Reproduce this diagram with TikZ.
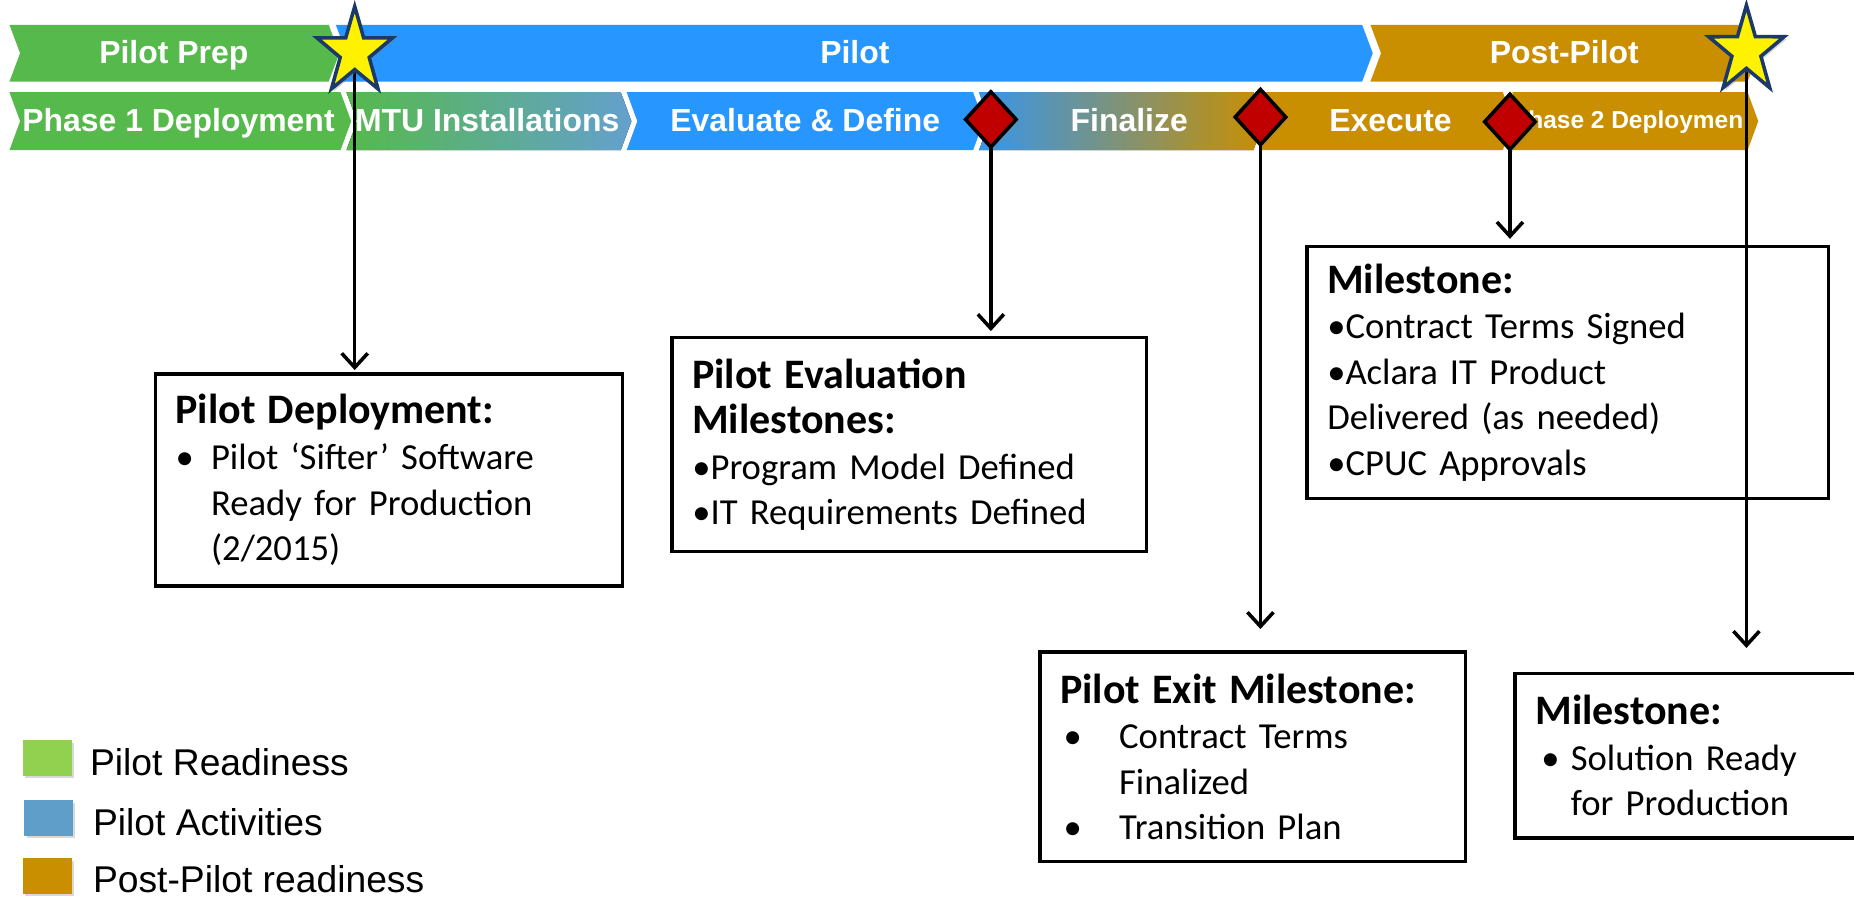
\documentclass[tikz,border=0pt]{standalone}
\usepackage{fontspec}
\setmainfont{Carlito}
\newfontfamily\arialfont{Liberation Sans}
\usepackage{tikz}
\usetikzlibrary{arrows.meta,shapes.geometric,shadows}
\usepackage{xcolor}

\definecolor{prepgreen}{RGB}{86,185,76}
\definecolor{pilotblue}{RGB}{40,150,255}
\definecolor{postgold}{RGB}{201,143,0}
\definecolor{steelblue}{RGB}{100,160,205}
\definecolor{fadeblue}{RGB}{55,150,235}
\definecolor{keygreen}{RGB}{146,208,80}
\definecolor{keyblue}{RGB}{95,158,201}
\definecolor{starnavy}{RGB}{28,58,105}
\definecolor{gemred}{RGB}{192,0,0}

\pgfdeclarelayer{bands}
\pgfdeclarelayer{links}
\pgfsetlayers{bands,links,main}

% chevron: [fill]{left x}{right x}{top y}{bottom y}
\newcommand{\chevron}[5][]{%
    \fill[#1] (#2,#4) -- (#3,#4) -- ({#3+9},{(#4+#5)/2}) -- (#3,#5)
        -- (#2,#5) -- ({#2+9},{(#4+#5)/2}) -- cycle;}
\newcommand{\mtitle}{\bfseries\fontsize{35.5}{38.5}\selectfont}
\newcommand{\bul}[2]{\makebox[#1][l]{\hspace{#2}\textbullet}}

\tikzset{
    bandtext/.style={text=white, inner sep=0, anchor=base,
        font=\arialfont\bfseries\fontsize{27}{30}\selectfont},
    milestar/.style={star, star points=5, star point ratio=2.6,
        minimum size=67pt, inner sep=0, fill=yellow, draw=starnavy,
        line width=3pt, drop shadow={opacity=0.35, shadow xshift=2pt, shadow yshift=-2pt}},
    gem/.style={diamond, minimum width=44pt, minimum height=48pt, inner sep=0,
        fill=gemred, draw=black, line width=3pt,
        drop shadow={opacity=0.3, shadow xshift=2pt, shadow yshift=-2pt}},
    mbox/.style={draw, line width=3pt, anchor=north west, inner xsep=17pt,
        inner ysep=0, align=left, font=\fontsize{31}{38.5}\selectfont},
    link/.style={line width=3pt, -{Straight Barb[length=12pt, width=22pt]}},
    keybox/.style={minimum width=41pt, minimum height=30pt, inner sep=0,
        drop shadow={opacity=0.3, shadow xshift=2pt, shadow yshift=-2pt}},
    keytext/.style={anchor=base west, inner sep=0,
        font=\arialfont\fontsize{31.5}{36}\selectfont},
}

\begin{document}
\begin{tikzpicture}[x=1pt, y=-1pt]
    \useasboundingbox (0,0) rectangle (1568,760);
    % stars
    \begin{scope}[shift={(300,44)}, yscale=1.15]
        \node[milestar, transform shape] (star1) at (0,0) {};
    \end{scope}
    \begin{scope}[shift={(1477,43)}, yscale=1.15]
        \node[milestar, transform shape] (star2) at (0,0) {};
    \end{scope}
    % diamonds
    \node[gem] (gem1) at (838,101) {};
    \node[gem] (gem2) at (1066,99) {};
    \node[gem] (gem3) at (1277,103) {};
    % milestone boxes
    \node[mbox, text width=361pt, minimum height=179pt] (pd) at (130,315)
        {{\mtitle Pilot Deployment:}\\
         \bul{30pt}{0pt}Pilot ‘Sifter’ Software\\
         \hspace*{30pt}Ready for Production\\
         \hspace*{30pt}(2/2015)};
    \node[mbox, text width=367pt, minimum height=181pt] (eval) at (567,284)
        {{\mtitle Pilot Evaluation}\\
         {\mtitle Milestones:}\\
         \textbullet{}Program Model Defined\\
         \textbullet{}IT Requirements Defined};
    \node[mbox, text width=326pt, minimum height=177pt] (exit) at (878,550)
        {{\mtitle Pilot Exit Milestone:}\\
         \bul{50pt}{3pt}Contract Terms\\
         \hspace*{50pt}Finalized\\
         \bul{50pt}{3pt}Transition Plan};
    \node[mbox, text width=407pt, minimum height=213pt] (sign) at (1104,207)
        {{\mtitle Milestone:}\\
         \textbullet{}Contract Terms Signed\\
         \textbullet{}Aclara IT Product\\
         Delivered (as needed)\\
         \textbullet{}CPUC Approvals};
    \node[mbox, text width=256pt, minimum height=139pt] (ready) at (1280,568)
        {{\mtitle Milestone:}\\
         \bul{30pt}{5pt}Solution Ready\\
         \hspace*{30pt}for Production};
    % bands
    \begin{pgfonlayer}{bands}
        \chevron[fill=prepgreen]{8}{278}{21}{69}
        \chevron[fill=pilotblue]{284}{1152}{21}{69}
        \chevron[fill=postgold]{1159}{1478}{21}{69}
        \chevron[fill=prepgreen]{8}{288}{78}{127}
        \chevron[left color=prepgreen, right color=steelblue]{293}{525}{78}{127}
        \chevron[fill=pilotblue]{530}{823}{78}{127}
        \chevron[left color=fadeblue, right color=postgold]{828}{1060}{78}{127}
        \chevron[fill=postgold]{1065}{1271}{78}{127}
        \chevron[fill=postgold]{1279}{1478}{78}{127}
        \node[bandtext] (prep) at (147,54) {Pilot Prep};
        \node[bandtext] (pilot) at (723,54) {Pilot};
        \node[bandtext] (post) at (1323,54) {Post-Pilot};
        \node[bandtext] (phase1) at (151,111) {Phase 1 Deployment};
        \node[bandtext] (mtu) at (412,111) {MTU Installations};
        \node[bandtext] (evaldef) at (681,111) {Evaluate \& Define};
        \node[bandtext] (final) at (955,111) {Finalize};
        \node[bandtext] (exec) at (1176,111) {Execute};
        \begin{scope}
            \clip (1291,78) rectangle (1474,127);
            \node[bandtext, font=\arialfont\bfseries\fontsize{20.7}{24}\selectfont]
                (phase2) at (1380,108.5) {Phase 2 Deployment};
        \end{scope}
    \end{pgfonlayer}
    % links
    \begin{pgfonlayer}{links}
        \draw[link, shorten >=2pt] (star1.center) -- (star1.center |- pd.north);
        \draw[link, shorten >=4pt] (gem1.center) -- (gem1.center |- eval.north);
        \draw[link, shorten >=18pt] (gem2.center) -- (gem2.center |- exit.north);
        \draw[link, shorten >=5pt] (gem3.center) -- (gem3.center |- sign.north);
        \draw[link, shorten >=20pt] (star2.center) -- (star2.center |- ready.north);
    \end{pgfonlayer}
    % legend
    \node[keybox, fill=keygreen] (kready) at (40,641) {};
    \node[keybox, fill=keyblue] (kact) at (41,692) {};
    \node[keybox, fill=postgold] (kpost) at (40,741) {};
    \node[keytext] (tready) at (76,655.5) {Pilot Readiness};
    \node[keytext] (tact) at (78.5,706.5) {Pilot Activities};
    \node[keytext] (tpost) at (78.5,755) {Post-Pilot readiness};
\end{tikzpicture}
\end{document}
